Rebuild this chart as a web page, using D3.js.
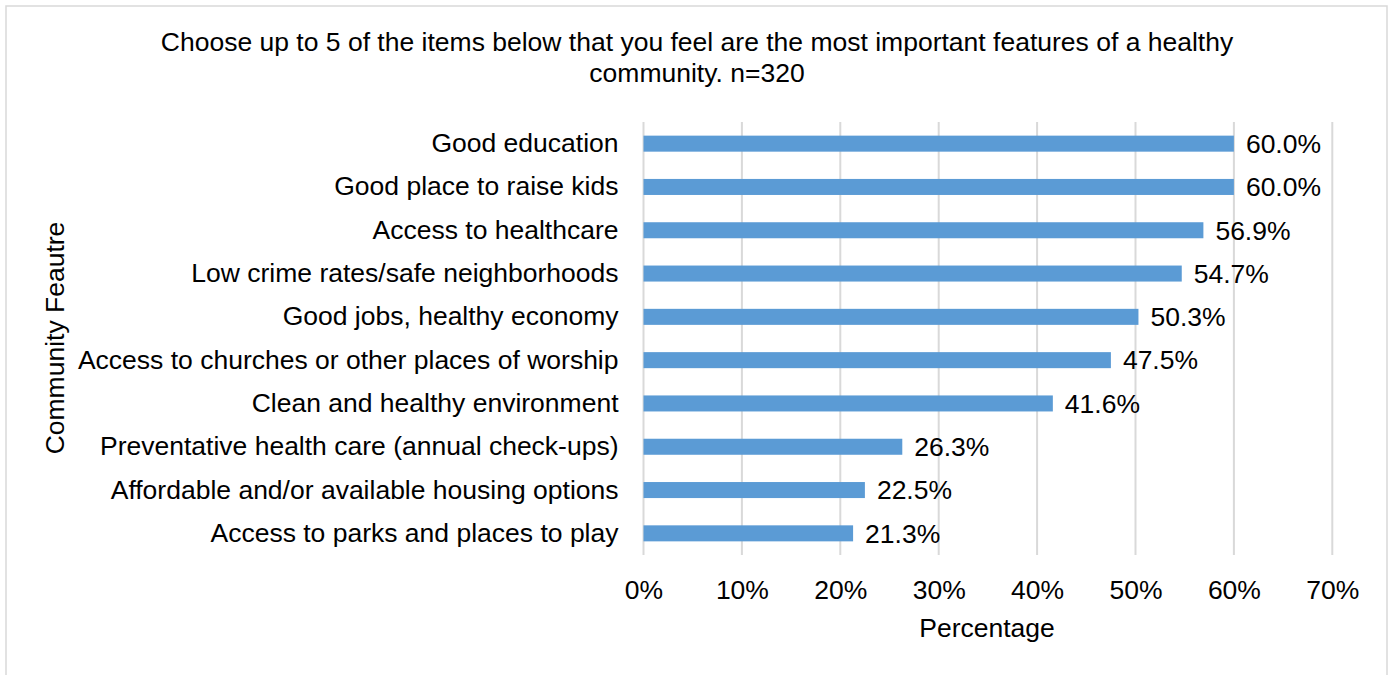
<!DOCTYPE html>
<html><head><meta charset="utf-8">
<script src="https://cdn.jsdelivr.net/npm/d3@7"></script>
<style>body{margin:0;background:#fff;} svg{display:block;}</style>
</head><body>
<svg id="c" width="1388" height="675"></svg>
<script>
const categories = [
  "Good education",
  "Good place to raise kids",
  "Access to healthcare",
  "Low crime rates/safe neighborhoods",
  "Good jobs, healthy economy",
  "Access to churches or other places of worship",
  "Clean and healthy environment",
  "Preventative health care (annual check-ups)",
  "Affordable and/or available housing options",
  "Access to parks and places to play"
];
const values = [60.0, 60.0, 56.9, 54.7, 50.3, 47.5, 41.6, 26.3, 22.5, 21.3];
const xTicks = [0, 10, 20, 30, 40, 50, 60, 70];
const titleLines = ["Choose up to 5 of the items below that you feel are the most important features of a healthy", "community. n=320"];

const font = "'Liberation Sans', Arial, sans-serif";
const fs = 26.5;
const svg = d3.select("#c");
svg.append("rect").attr("x",6).attr("y",6).attr("width",1381).attr("height",700)
  .attr("fill","#fff").attr("stroke","#d9d9d9").attr("stroke-width",1.5);

const x = d3.scaleLinear().domain([0,70]).range([643.5,1332.3]);
const y = d3.scaleBand().domain(categories).range([122,555]).paddingInner(0.63).paddingOuter(0.315);

// gridlines
svg.append("g").selectAll("line").data(xTicks).join("line")
  .attr("x1",d=>x(d)).attr("x2",d=>x(d)).attr("y1",122).attr("y2",555)
  .attr("stroke","#d9d9d9").attr("stroke-width",2);

// bars
svg.append("g").selectAll("rect").data(values).join("rect")
  .attr("x",x(0)).attr("y",(d,i)=>y(categories[i]))
  .attr("width",d=>x(d)-x(0)).attr("height",y.bandwidth())
  .attr("fill","#5b9bd5");

// data labels
svg.append("g").selectAll("text").data(values).join("text")
  .attr("x",d=>x(d)+12).attr("y",(d,i)=>y(categories[i])+y.bandwidth()/2)
  .attr("dy","0.35em").attr("font-family",font).attr("font-size",fs).attr("fill","#000")
  .text(d=>d.toFixed(1)+"%");

// category axis
const yAxis = svg.append("g").attr("transform","translate(643.5,0)")
  .call(d3.axisLeft(y).tickSize(0).tickPadding(25));
yAxis.select(".domain").remove();
yAxis.selectAll("text").attr("font-family",font).attr("font-size",fs).attr("fill","#000");

// x axis
const xAxis = svg.append("g").attr("transform","translate(0,577)")
  .call(d3.axisBottom(x).tickValues(xTicks).tickSize(0).tickFormat(d=>d+"%"));
xAxis.select(".domain").remove();
xAxis.selectAll("text").attr("font-family",font).attr("font-size",fs).attr("fill","#000");

// titles
svg.append("g").selectAll("text").data(titleLines).join("text")
  .attr("x",697).attr("y",(d,i)=>51+i*31).attr("text-anchor","middle")
  .attr("font-family",font).attr("font-size",fs).attr("fill","#000").text(d=>d);

svg.append("text").attr("x",987).attr("y",637).attr("text-anchor","middle")
  .attr("font-family",font).attr("font-size",fs).attr("fill","#000").text("Percentage");

svg.append("text").attr("transform","translate(64,338) rotate(-90)").attr("text-anchor","middle")
  .attr("font-family",font).attr("font-size",fs).attr("fill","#000").text("Community Feautre");
</script>
</body></html>
